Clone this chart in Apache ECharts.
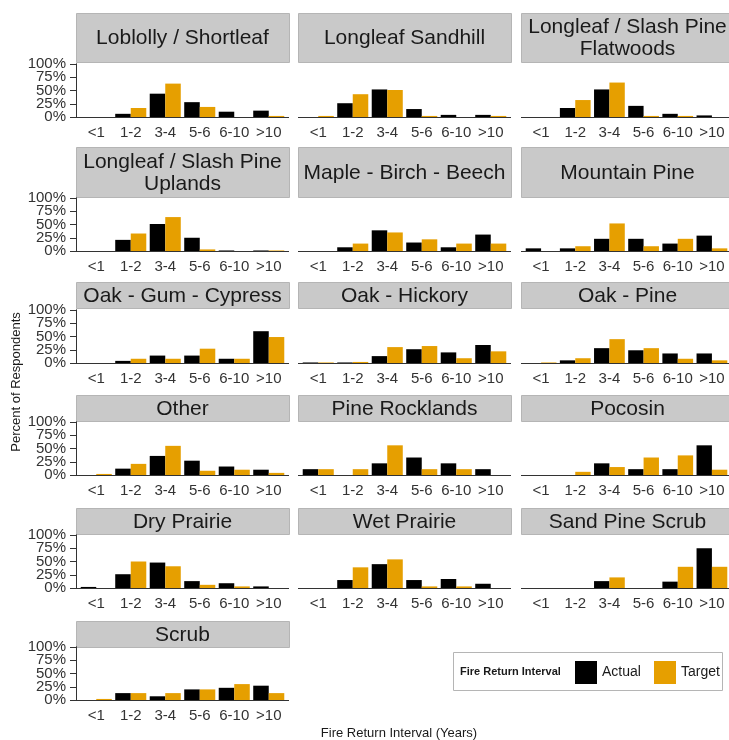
<!DOCTYPE html>
<html>
<head>
<meta charset="utf-8">
<script src="https://cdn.jsdelivr.net/npm/echarts@6/dist/echarts.min.js"></script>
<style>
html, body { margin: 0; padding: 0; background: #fff; }
#chart { width: 729px; height: 740px; }
</style>
</head>
<body>
<div id="chart"></div>
<script>
const intervals = ['<1', '1-2', '3-4', '5-6', '6-10', '>10']
const yTicks = [0, 25, 50, 75, 100]
const forestTypes = [
    'Loblolly / Shortleaf', 'Longleaf Sandhill', 'Longleaf / Slash Pine\nFlatwoods',
    'Longleaf / Slash Pine\nUplands', 'Maple - Birch - Beech', 'Mountain Pine',
    'Oak - Gum - Cypress', 'Oak - Hickory', 'Oak - Pine',
    'Other', 'Pine Rocklands', 'Pocosin',
    'Dry Prairie', 'Wet Prairie', 'Sand Pine Scrub',
    'Scrub'
]
// percent of respondents, one row per forest type
const actual = [
    [0, 6, 44, 28, 10, 12],
    [0, 26, 52, 15, 4, 4],
    [0, 17, 52, 21, 6, 3],
    [0, 21, 51, 25, 1, 1],
    [0, 7, 39, 16, 7, 31],
    [5, 5, 23, 23, 14, 29],
    [0, 4, 14, 14, 8, 60],
    [1, 1, 13, 26, 20, 34],
    [0, 5, 28, 24, 18, 18],
    [0, 12, 36, 27, 16, 10],
    [11, 0, 22, 33, 22, 11],
    [0, 0, 22, 11, 11, 56],
    [2, 26, 48, 13, 9, 3],
    [0, 15, 45, 15, 17, 8],
    [0, 0, 13, 0, 12, 75],
    [0, 13, 7, 20, 23, 27]
]
const target = [
    [0, 17, 63, 19, 0, 2],
    [2, 43, 51, 2, 0, 2],
    [0, 32, 65, 2, 2, 0],
    [0, 33, 64, 3, 0, 1],
    [0, 14, 35, 22, 14, 14],
    [0, 9, 52, 9, 23, 5],
    [0, 8, 8, 27, 8, 49],
    [1, 2, 30, 32, 9, 22],
    [1, 9, 45, 28, 8, 5],
    [2, 21, 55, 8, 10, 4],
    [11, 11, 56, 11, 11, 0],
    [0, 6, 15, 33, 37, 10],
    [0, 50, 41, 6, 3, 0],
    [0, 39, 54, 3, 3, 0],
    [0, 0, 20, 0, 40, 40],
    [2, 13, 13, 20, 30, 13]
]

const font = '"Liberation Sans", Arial, sans-serif'
const colLeft = [76, 298, 521]
const panelW = 213
const stripTop = [13, 147, 282, 395, 508, 621]
const stripBottom = [62, 197, 308, 421, 534, 647]
const axisY = [117, 251, 363, 475, 588, 700]
const plotH = 53

const grids = [], xAxes = [], yAxes = [], extraY = [], series = [], graphics = []

function yAxisFor(i, show, ticks) {
    return {
        type: 'value',
        gridIndex: i,
        position: 'left',
        min: 0,
        max: 100,
        interval: 25,
        offset: 3,
        splitLine: { show: false },
        axisLine: { show: show, lineStyle: { color: '#333' } },
        axisTick: { show: show, length: 6, customValues: ticks, lineStyle: { color: '#333' } },
        axisLabel: {
            show: show, fontSize: 15, color: '#333', fontFamily: font, margin: 10,
            customValues: ticks, hideOverlap: false,
            showMinLabel: true, showMaxLabel: true,
            formatter: v => v + '%'
        }
    }
}

forestTypes.forEach((name, i) => {
    const row = Math.floor(i / 3)
    const col = i % 3
    const x0 = colLeft[col]
    grids.push({
        left: x0 + 3,
        top: axisY[row] - plotH,
        width: panelW - 6,
        height: plotH
    })
    xAxes.push({
        type: 'category',
        gridIndex: i,
        data: intervals,
        axisLine: { show: false },
        axisTick: { alignWithLabel: true, length: 6, lineStyle: { color: '#333' } },
        axisLabel: { fontSize: 15, color: '#333', fontFamily: font, margin: 8, interval: 0 }
    })
    const first = col === 0
    // labels 0/50/100 on the main axis, 25/75 on an overlay axis so none get hidden
    yAxes.push(yAxisFor(i, first, yTicks.filter((v, k) => k % 2 === 0)))
    if (first) extraY.push(yAxisFor(i, true, yTicks.filter((v, k) => k % 2 === 1)))
    series.push({
        name: 'Actual', type: 'bar', xAxisIndex: i, yAxisIndex: i,
        data: actual[i], barWidth: '45%', barGap: '0%',
        itemStyle: { color: '#000000' }
    })
    series.push({
        name: 'Target', type: 'bar', xAxisIndex: i, yAxisIndex: i,
        data: target[i], barWidth: '45%', barGap: '0%',
        itemStyle: { color: '#E69F00' }
    })
    // strip
    graphics.push({
        type: 'rect',
        shape: { x: x0 + 0.5, y: stripTop[row] + 0.5, width: panelW, height: stripBottom[row] - stripTop[row] },
        style: { fill: '#c9c9c9', stroke: '#b5b5b5', lineWidth: 1 }
    })
    graphics.push({
        type: 'text',
        style: {
            text: name, x: x0 + panelW / 2, y: (stripTop[row] + stripBottom[row]) / 2 + 1,
            align: 'center', verticalAlign: 'middle',
            fontSize: 21, lineHeight: 22, fontFamily: font, fill: '#1a1a1a'
        }
    })
    // x axis line across full panel
    graphics.push({
        type: 'line',
        shape: { x1: x0, y1: axisY[row] + 0.5, x2: x0 + panelW, y2: axisY[row] + 0.5 },
        style: { stroke: '#333', lineWidth: 1 }
    })
})

// axis titles
graphics.push({
    type: 'text',
    rotation: Math.PI / 2,
    x: 16, y: 382,
    style: {
        text: 'Percent of Respondents', align: 'center', verticalAlign: 'middle',
        fontSize: 13, fontFamily: font, fill: '#1a1a1a'
    }
})
graphics.push({
    type: 'text',
    style: {
        text: 'Fire Return Interval (Years)', x: 399, y: 733,
        align: 'center', verticalAlign: 'middle',
        fontSize: 13, fontFamily: font, fill: '#1a1a1a'
    }
})
// legend box
graphics.push({
    type: 'rect',
    shape: { x: 453.5, y: 652.5, width: 269, height: 38 },
    style: { fill: '#fff', stroke: '#b5b5b5', lineWidth: 1 },
    z: 0
})
graphics.push({
    type: 'text',
    style: {
        text: 'Fire Return Interval', x: 460, y: 672,
        align: 'left', verticalAlign: 'middle',
        fontSize: 11, fontWeight: 'bold', fontFamily: font, fill: '#1a1a1a'
    }
})

const legendBase = {
    orient: 'horizontal',
    top: 661,
    padding: 0,
    icon: 'rect',
    itemWidth: 22, itemHeight: 23,
    itemTextGap: 4,
    textStyle: { fontSize: 14, color: '#1a1a1a', fontFamily: font }
}

const chart = echarts.init(document.getElementById('chart'))
chart.setOption({
    animation: false,
    backgroundColor: '#fff',
    grid: grids,
    xAxis: xAxes,
    yAxis: yAxes.concat(extraY),
    series: series,
    graphic: graphics,
    legend: [
        Object.assign({}, legendBase, { data: ['Actual'], left: 575 }),
        Object.assign({}, legendBase, { data: ['Target'], left: 654 })
    ]
})
</script>
</body>
</html>
